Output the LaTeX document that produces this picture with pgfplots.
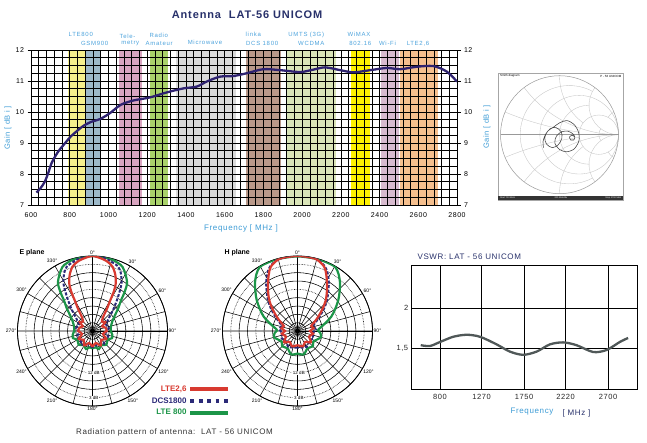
\documentclass[border=0pt]{standalone}
\usepackage{pgfplots}
\pgfplotsset{compat=1.18}
\usepgfplotslibrary{polar,smithchart}
\usepackage{fontspec}
\setmainfont{Liberation Sans}
\newfontfamily\spaced[LetterSpace=8]{Liberation Sans}
\newfontfamily\wide[LetterSpace=12]{Liberation Sans}
\definecolor{titlecol}{HTML}{27306A}
\definecolor{lblcol}{HTML}{3C9BD5}
\definecolor{bandlbl}{HTML}{4DA3DC}
\definecolor{gaincol}{HTML}{2E2270}
\definecolor{vswrcol}{HTML}{505858}
\definecolor{cred}{HTML}{D83A30}
\definecolor{cnavy}{HTML}{2B2A78}
\definecolor{cgreen}{HTML}{1C9548}
\definecolor{bLTE}{HTML}{F6F08C}
\definecolor{bGSM}{HTML}{9DB9C9}
\definecolor{bTEL}{HTML}{D9A5C0}
\definecolor{bRAD}{HTML}{A9D26A}
\definecolor{bMIC}{HTML}{DADADA}
\definecolor{bDCS}{HTML}{B9998A}
\definecolor{bUMT}{HTML}{DAE5B8}
\definecolor{bWIM}{HTML}{FFF200}
\definecolor{bWIF}{HTML}{D8BBCF}
\definecolor{bL26}{HTML}{F5BF8E}
\begin{document}
\begin{tikzpicture}
\path[use as bounding box] (0,0) rectangle (647pt,442pt);

% ---------- title and band labels ----------
\node[font=\spaced\bfseries\fontsize{11}{12}\selectfont, text=titlecol] at (247pt,427pt) {Antenna\ \ LAT-56 UNICOM};
\begin{scope}[every node/.style={font=\wide\fontsize{6}{6}\selectfont, text=bandlbl, inner sep=0pt}]
\node at (80.8pt,407.7pt) {LTE800};
\node at (94.7pt,398.7pt) {GSM900};
\node at (127.5pt,405.3pt) {Tele-};
\node at (130.3pt,398.7pt) {metry};
\node at (158.8pt,407pt) {Radio};
\node at (159.2pt,398.7pt) {Amateur};
\node at (205pt,399.3pt) {Microwave};
\node at (253.3pt,407.7pt) {linka};
\node at (262.2pt,398.7pt) {DCS 1800};
\node at (306.2pt,407pt) {UMTS (3G)};
\node at (311.3pt,398.7pt) {WCDMA};
\node at (359pt,407.7pt) {WiMAX};
\node at (360.3pt,398.7pt) {802.16};
\node at (387.5pt,398.7pt) {Wi-Fi};
\node at (418pt,398.7pt) {LTE2,6};
\end{scope}
\node[font=\spaced\fontsize{7.5}{8}\selectfont, text=lblcol, rotate=90] at (8pt,314pt) {Gain [ dB i ]};
\node[font=\spaced\fontsize{7.5}{8}\selectfont, text=lblcol, rotate=90] at (487pt,315pt) {Gain [ dB i ]};
\node[font=\spaced\fontsize{8}{8}\selectfont, text=lblcol] at (241pt,214pt) {Frequency [ MHz ]};

% ---------- gain chart: bands + grid ----------
\begin{axis}[
  at={(31pt,237pt)}, anchor=south west, scale only axis,
  width=426pt, height=155pt,
  xmin=600, xmax=2800, ymin=7, ymax=12,
  xtick={600,800,...,2800}, ytick={7,...,12},
  minor x tick num=4, minor y tick num=3,
  grid=both,
  major grid style={black,line width=0.5pt},
  minor grid style={black,line width=0.5pt},
  axis line style={black,line width=0.6pt},
  axis on top,
  xtick pos=bottom, ytick pos=left, tick align=outside,
  major tick length=3.5pt, minor tick length=0pt,
  xtick style={draw=none}, ytick style={black,line width=0.5pt},
  /pgf/number format/assume math mode=true,
  /pgf/number format/1000 sep={},
  tick label style={font=\spaced\fontsize{7}{7}\selectfont},
  xticklabel style={yshift=-1pt},
]
\addplot[fill=bLTE,draw=none] coordinates {(790,7)(878,7)(878,12)(790,12)} -- cycle;
\addplot[fill=bGSM,draw=none] coordinates {(880,7)(960,7)(960,12)(880,12)} -- cycle;
\addplot[fill=bTEL,draw=none] coordinates {(1055,7)(1175,7)(1175,12)(1055,12)} -- cycle;
\addplot[fill=bRAD,draw=none] coordinates {(1213,7)(1310,7)(1310,12)(1213,12)} -- cycle;
\addplot[fill=bMIC,draw=none] coordinates {(1347,7)(1660,7)(1660,12)(1347,12)} -- cycle;
\addplot[fill=bDCS,draw=none] coordinates {(1710,7)(1890,7)(1890,12)(1710,12)} -- cycle;
\addplot[fill=bUMT,draw=none] coordinates {(1915,7)(2175,7)(2175,12)(1915,12)} -- cycle;
\addplot[fill=bWIM,draw=none] coordinates {(2252,7)(2352,7)(2352,12)(2252,12)} -- cycle;
\addplot[fill=bWIF,draw=none] coordinates {(2405,7)(2502,7)(2502,12)(2405,12)} -- cycle;
\addplot[fill=bL26,draw=none] coordinates {(2504,7)(2700,7)(2700,12)(2504,12)} -- cycle;
\end{axis}

% ---------- gain chart: right ticks + curve ----------
\begin{axis}[
  at={(31pt,237pt)}, anchor=south west, scale only axis,
  width=426pt, height=155pt,
  xmin=600, xmax=2800, ymin=7, ymax=12,
  axis x line=none, axis y line*=right,
  ytick={7,...,12}, tick align=outside, major tick length=3.5pt,
  axis line style={black,line width=0.6pt},
  ytick style={black,line width=0.5pt},
  /pgf/number format/assume math mode=true,
  yticklabel style={font=\spaced\fontsize{7}{7}\selectfont},
]
\addplot[gaincol, line width=2.3pt, smooth] coordinates {
(628,7.4) (650,7.55) (671,7.75) (690,8.05) (706,8.35) (740,8.72) (770,8.95) (804,9.2)
(840,9.4) (870,9.55) (910,9.68) (956,9.77) (1007,9.96) (1063,10.23) (1128,10.37)
(1214,10.47) (1300,10.63) (1386,10.76) (1456,10.82) (1507,10.98) (1576,11.14) (1645,11.16)
(1714,11.25) (1800,11.38) (1886,11.35) (1990,11.29) (2060,11.37) (2119,11.44) (2197,11.35)
(2265,11.28) (2352,11.35) (2438,11.42) (2507,11.38) (2593,11.46) (2679,11.48) (2748,11.3) (2800,10.98)};
\end{axis}

% ---------- Smith chart ----------
\fill[white] (498.3pt,242pt) rectangle (623.3pt,368.7pt);
\draw[gray!70, line width=0.5pt] (498.3pt,242pt) rectangle (623.3pt,368.7pt);
\fill[black!80] (498.3pt,242pt) rectangle (623.3pt,246pt);
\node[font=\fontsize{3}{3}\selectfont, anchor=west, inner sep=0pt] at (500pt,366pt) {Smith diagram};
\node[font=\fontsize{3}{3}\selectfont, anchor=east, inner sep=0pt] at (621.5pt,366pt) {P - 56 UNICOM};
\node[font=\fontsize{2.3}{2.3}\selectfont, text=white, anchor=west, inner sep=0pt] at (500pt,244pt) {Start 700 MHz};
\node[font=\fontsize{2.3}{2.3}\selectfont, text=white, inner sep=0pt] at (561pt,244pt) {200 MHz/div};
\node[font=\fontsize{2.3}{2.3}\selectfont, text=white, anchor=east, inner sep=0pt] at (621.5pt,244pt) {Stop 2700 MHz};
\begin{smithchart}[
  at={(559.5pt,307.3pt)}, anchor=center, scale only axis, width=118pt,
  xticklabels={}, yticklabels={},
  major tick length=0pt, minor tick length=0pt,
  grid style={gray!45, line width=0.35pt},
  axis line style={gray!80, line width=0.5pt},
]
\addplot[is smithchart cs, smooth, color=black!75, line width=0.55pt] coordinates {
(-0.27,-0.22) (-0.28,-0.12) (-0.24,0.0) (-0.16,0.10) (-0.06,0.12) (0.03,0.05) (0.04,-0.06)
(-0.02,-0.17) (-0.12,-0.22) (-0.22,-0.16) (-0.25,-0.05) (-0.2,0.06) (-0.1,0.13) (0.0,0.20)
(0.12,0.24) (0.24,0.18) (0.32,0.05) (0.33,-0.1) (0.25,-0.24) (0.12,-0.29) (0.0,-0.25)
(-0.08,-0.14) (-0.05,-0.02) (0.04,0.05) (0.14,0.06) (0.22,0.02) (0.26,-0.04) (0.24,-0.09)
(0.19,-0.09) (0.17,-0.04) (0.21,-0.01) (0.25,-0.03)};
\end{smithchart}

% ---------- polar plots ----------
\pgfplotsset{mypolar/.style={
  scale only axis, width=150pt, height=150pt,
  ymin=0, ymax=9,
  ytick={1,2,3,4,6,7,9}, yticklabels={},
  extra y ticks={5,8}, extra y tick labels={},
  extra y tick style={grid=major, major grid style={black,densely dotted,line width=0.6pt}},
  xtick={0,30,...,330},
  xticklabels={90°,60°,30°,0°,330°,300°,270°,240°,210°,180°,150°,120°},
  minor xtick={15,45,...,345},
  grid=both,
  major grid style={black,line width=0.55pt},
  minor grid style={black,line width=0.55pt},
  axis line style={black,line width=0.8pt},
  major tick length=0pt, minor tick length=0pt,
  xticklabel style={font=\fontsize{5}{5}\selectfont, inner sep=1pt},
  x filter/.expression={90-x},
}}
\node[font=\bfseries\fontsize{7}{7}\selectfont, anchor=west] at (16pt,189pt) {E plane};
\node[font=\bfseries\fontsize{7}{7}\selectfont, anchor=west] at (221pt,189pt) {H plane};

\begin{polaraxis}[mypolar, at={(92.5pt,111pt)}, anchor=center,
  legend plot pos=right, legend cell align=right, reverse legend,
  legend image code/.code={\draw[#1] (0pt,0pt) -- (38pt,0pt);},
  legend style={at={(axis description cs:1.44,0.033)}, anchor=east, draw=none, fill=none,
     font=\bfseries\fontsize{8}{9}\selectfont, row sep=0.6pt,
     /tikz/every even column/.append style={column sep=3pt}},
]
\addplot[cgreen, line width=2.2pt, smooth, legend image post style={line width=3.8pt}] coordinates {
(-180,2.1)(-170,2.0)(-160,2.3)(-147,2.0)(-135,2.35)(-120,2.1)(-110,2.5)(-100,2.4)(-90,2.2)(-75,2.3)(-65,2.6)
(-57,3.1)(-48,4.2)(-43,5.0)(-40,5.9)(-36,7.05)(-30,7.9)(-25,8.5)(-21,8.7)(-15,8.9)(-8,8.95)(0,9)
(8,8.95)(15,8.9)(21,8.7)(25,8.5)(30,7.9)(36,7.05)(40,5.9)(43,5.0)(48,4.2)(57,3.1)(65,2.6)(75,2.3)
(90,2.2)(100,2.4)(110,2.5)(120,2.1)(135,2.35)(147,2.0)(160,2.3)(170,2.0)(180,2.1)};
\addlegendentry{\textcolor{cgreen}{LTE 800}}
\addplot[cnavy, line width=2pt, smooth, dash pattern=on 3pt off 1.6pt,
  legend image post style={line width=3.8pt, dash pattern=on 3.8pt off 4.6pt}] coordinates {
(-180,2.0)(-160,1.7)(-140,2.1)(-125,1.7)(-110,2.0)(-95,1.6)(-80,2.0)(-65,1.8)(-57,2.1)(-50,2.67)
(-44,3.6)(-38.3,4.74)(-35,5.6)(-31.3,6.7)(-26,7.75)(-22,8.3)(-18,8.5)(-10,8.85)(0,9)(10,8.85)
(18,8.5)(22,8.3)(26,7.75)(31.3,6.7)(35,5.6)(38.3,4.74)(44,3.6)(50,2.67)(57,2.1)(65,1.8)(80,2.0)
(95,1.6)(110,2.0)(125,1.7)(140,2.1)(160,1.7)(180,2.0)};
\addlegendentry{\textcolor{cnavy}{DCS1800}}
\addplot[cred, line width=2.2pt, smooth, legend image post style={line width=3.8pt}] coordinates {
(-180,1.9)(-165,1.5)(-150,2.0)(-135,1.5)(-120,1.9)(-105,1.3)(-90,1.7)(-75,1.6)(-65,1.3)(-55,1.85)
(-45,1.6)(-37,2.15)(-33,3.2)(-30,4.29)(-28.5,5.3)(-26,6.37)(-22,7.3)(-17.3,8.08)(-13,8.45)(-8.5,8.7)
(0,9)(8.5,8.7)(13,8.45)(17.3,8.08)(22,7.3)(26,6.37)(28.5,5.3)(30,4.29)(33,3.2)(37,2.15)(45,1.6)
(55,1.85)(65,1.3)(75,1.6)(90,1.7)(105,1.3)(120,1.9)(135,1.5)(150,2.0)(165,1.5)(180,1.9)};
\addlegendentry{\textcolor{cred}{LTE2,6}}
\node[fill=white, inner sep=0.4pt, font=\fontsize{4.5}{5}\selectfont] at (axis description cs:0.5,0.222) {- 12 dB};
\node[fill=white, inner sep=0.4pt, font=\fontsize{4.5}{5}\selectfont] at (axis description cs:0.5,0.0556) {- 3 dB};
\end{polaraxis}

\begin{polaraxis}[mypolar, at={(297.5pt,111pt)}, anchor=center]
\addplot[cgreen, line width=2.2pt, smooth] coordinates {
(-180,2.7)(-165,2.9)(-150,2.4)(-135,2.6)(-125,2.3)(-115,2.5)(-105,2.9)(-95,2.75)(-88,2.45)(-82,2.75)
(-75,3.4)(-67,4.4)(-60,5.2)(-52.8,6.15)(-47,6.9)(-41.7,7.67)(-36,8.4)(-30.8,8.9)(-25,8.95)(-15,8.95)
(0,8.95)(15,8.95)(25,8.95)(30.8,8.9)(36,8.4)(41.7,7.67)(47,6.9)(52.8,6.15)(60,5.2)(67,4.4)(75,3.4)
(82,2.75)(88,2.45)(95,2.75)(105,2.9)(115,2.5)(125,2.3)(135,2.6)(150,2.4)(165,2.9)(180,2.7)};
\addplot[cnavy, line width=2pt, smooth, dash pattern=on 3pt off 1.6pt] coordinates {
(-180,2.0)(-150,2.2)(-130,1.85)(-115,2.1)(-100,1.8)(-85,2.2)(-72,2.0)(-64,2.45)(-57,3.15)(-50,4.15)
(-43.6,5.14)(-38,6.0)(-33.3,6.85)(-28,7.75)(-23.2,8.4)(-16,8.88)(-8,8.96)(0,9)(8,8.96)(16,8.88)
(23.2,8.4)(28,7.75)(33.3,6.85)(38,6.0)(43.6,5.14)(50,4.15)(57,3.15)(64,2.45)(72,2.0)(85,2.2)
(100,1.8)(115,2.1)(130,1.85)(150,2.2)(180,2.0)};
\addplot[cred, line width=2.2pt, smooth] coordinates {
(-180,1.7)(-160,1.95)(-145,1.6)(-130,2.1)(-115,1.55)(-100,1.9)(-90,1.5)(-80,1.95)(-70,1.75)(-62,2.3)
(-55.5,3.03)(-48,4.1)(-42.4,5.04)(-37,5.85)(-31.7,6.73)(-27,7.6)(-22.5,8.36)(-14.8,8.9)(-7,8.97)
(0,9)(7,8.97)(14.8,8.9)(22.5,8.36)(27,7.6)(31.7,6.73)(37,5.85)(42.4,5.04)(48,4.1)(55.5,3.03)
(62,2.3)(70,1.75)(80,1.95)(90,1.5)(100,1.9)(115,1.55)(130,2.1)(145,1.6)(160,1.95)(180,1.7)};
\node[fill=white, inner sep=0.4pt, font=\fontsize{4.5}{5}\selectfont] at (axis description cs:0.5,0.222) {- 12 dB};
\node[fill=white, inner sep=0.4pt, font=\fontsize{4.5}{5}\selectfont] at (axis description cs:0.5,0.0556) {- 3 dB};
\end{polaraxis}

\node[font=\spaced\fontsize{8}{8}\selectfont, text=black!80] at (174.5pt,10pt) {Radiation pattern of antenna:\ \ LAT - 56 UNICOM};

% ---------- VSWR ----------
\node[font=\spaced\fontsize{8}{8}\selectfont, text=titlecol, anchor=west] at (414pt,185.3pt) {VSWR: LAT - 56 UNICOM};
\begin{axis}[
  at={(411.7pt,52.7pt)}, anchor=south west, scale only axis,
  width=225.6pt, height=124.3pt,
  xmin=480, xmax=3030, ymin=0.99, ymax=2.54,
  xtick={800,1270,1750,2220,2700}, xticklabels={800,1270,1750,2220,2700},
  ytick={1.5,2}, yticklabels={{1,5},2},
  grid=major, major grid style={black,line width=0.6pt},
  axis line style={black,line width=0.6pt},
  major tick length=0pt,
  tick label style={font=\spaced\fontsize{7.5}{7.5}\selectfont, text=black!85},
  xticklabel style={yshift=-1pt},
]
\addplot[vswrcol, line width=2.3pt, smooth] coordinates {
(582,1.54) (687,1.53) (800,1.58) (950,1.645) (1101,1.67) (1252,1.645) (1440,1.55) (1590,1.46)
(1740,1.42) (1892,1.46) (2042,1.55) (2192,1.575) (2343,1.54) (2531,1.455) (2682,1.48) (2832,1.58) (2926,1.63)};
\end{axis}
\node[font=\spaced\fontsize{8}{8}\selectfont, anchor=east, text=lblcol] at (557pt,30pt) {Frequency};
\node[font=\spaced\fontsize{8}{8}\selectfont, anchor=west, text=titlecol] at (559pt,29pt) {[ MHz ]};
\end{tikzpicture}
\end{document}
